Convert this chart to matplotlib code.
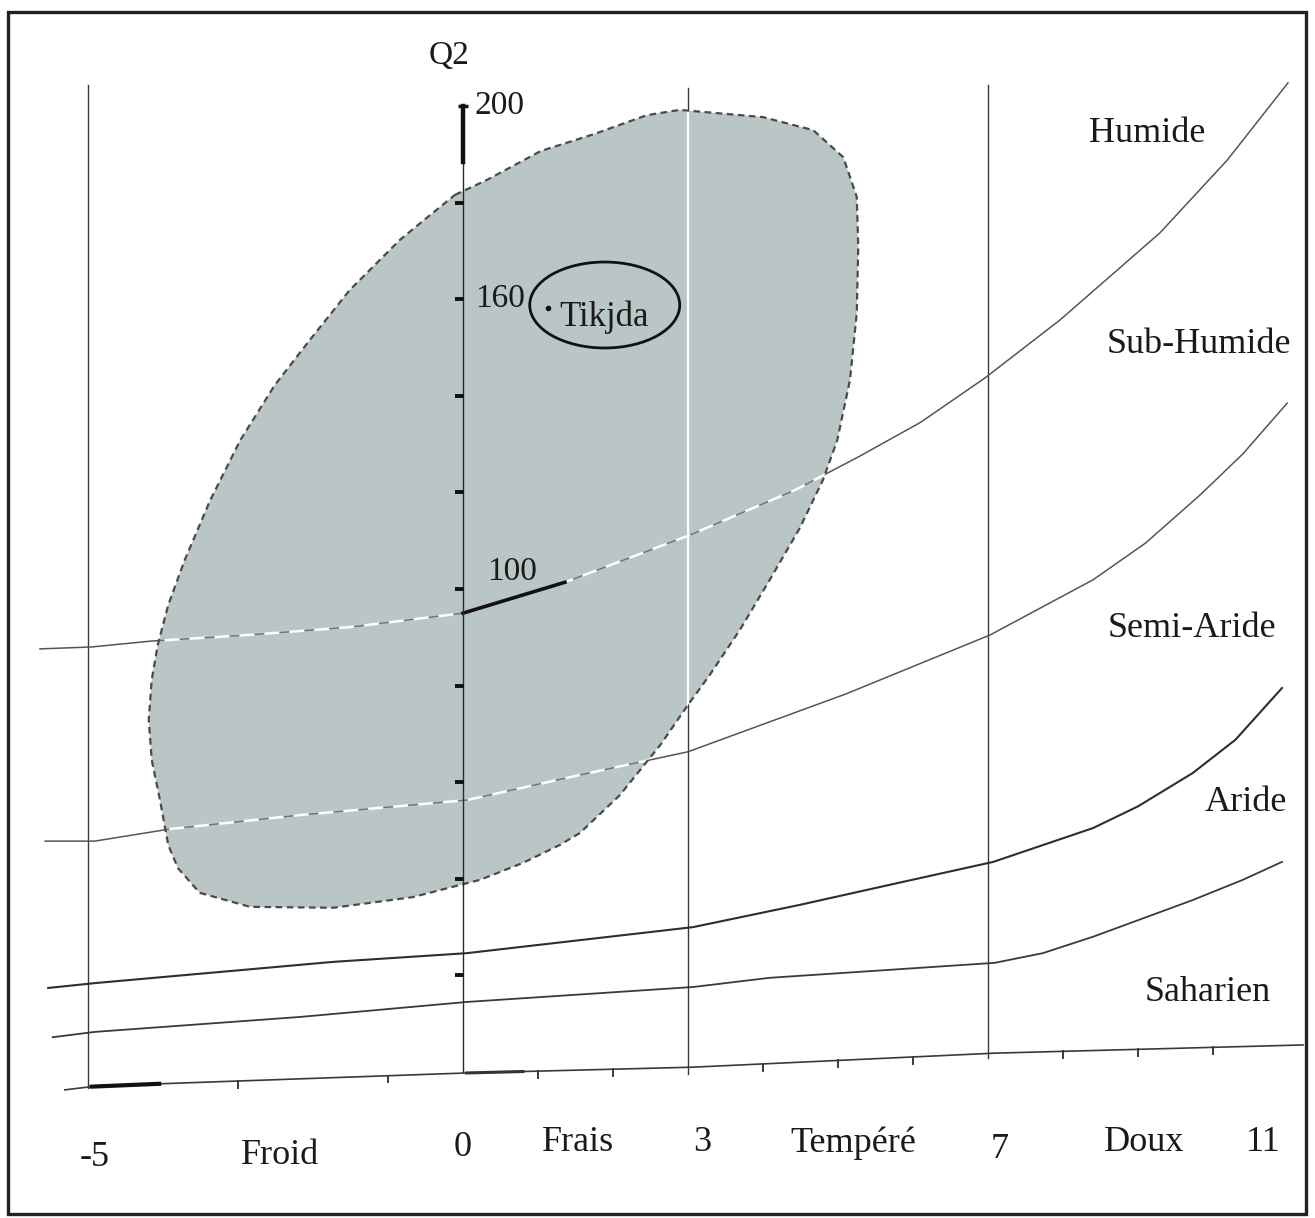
import numpy as np
import matplotlib
matplotlib.use("Agg")
import matplotlib.pyplot as plt
from matplotlib.patches import Polygon, Ellipse, Rectangle

# ---------------- data (m in degC, Q2 Emberger quotient) ----------------
# Boundary curves of the Emberger climagram
humid_m = [-5.64, -4.95, -4.17, -2.84, -1.51, 0.0, 1.36, 3.03, 4.43, 5.29, 6.1, 6.96, 7.96, 9.29, 10.19, 11.0]
humid_q2 = [87.6, 88.0, 89.2, 90.5, 92.1, 95.0, 101.4, 111.2, 120.5, 127.5, 134.5, 143.7, 155.7, 173.7, 188.8, 204.8]

subhumid_m = [-5.57, -4.91, -3.91, -2.17, 0.05, 1.56, 3.0, 5.11, 7.03, 8.4, 9.1, 9.83, 10.4, 10.99]
subhumid_q2 = [47.8, 47.8, 50.3, 53.2, 56.3, 61.5, 66.3, 78.3, 90.5, 101.9, 109.5, 119.5, 128.0, 138.5]

semiarid_m = [-5.53, -4.91, -1.73, 0.05, 1.56, 3.07, 4.49, 5.79, 7.07, 8.4, 9.0, 9.73, 10.3, 10.92]
semiarid_q2 = [17.4, 18.4, 22.8, 24.6, 27.3, 30.0, 34.6, 39.1, 43.5, 50.5, 55.0, 61.9, 68.8, 79.5]

arid_m = [-5.47, -4.91, -2.17, 0.05, 3.07, 4.09, 7.09, 7.73, 8.4, 9.73, 10.4, 10.92]
arid_q2 = [7.2, 8.3, 11.4, 14.5, 17.6, 19.5, 22.6, 24.6, 28.0, 35.6, 39.8, 43.5]

# Baseline (Q2 = 0 line as drawn on the scanned figure)
base_m = [-5.31, -4.88, 0.05, 3.07, 7.09, 11.2]
base_q2 = [-3.7, -2.9, -0.2, 1.0, 3.9, 5.6]

# Vertical reference lines (m values) and their extent
vline_m = [-5, 3, 7]
vline_top = [204.3, 203.7, 204.3]
vline_bottom = [-3.3, -0.5, 2.9]

# Q2 axis
q2_axis_ticks = [20, 40, 60, 80, 100, 120, 140, 160, 180, 200]
q2_axis_labels = ["200", "160", "100"]
q2_label_vals = [200, 160, 100]

# Minor ticks on the m axis
m_ticks = [-3, -1, 1, 2, 4, 5, 6, 8, 9, 10]

# Bottom labels
bottom_text = ["-5", "Froid", "0", "Frais", "3", "Tempéré", "7", "Doux", "11"]
bottom_pos = [-4.91, -2.44, -0.01, 1.53, 3.19, 5.2, 7.16, 9.08, 10.67]
bottom_q2 = [-17.8, -17.2, -15.7, -14.7, -14.7, -14.7, -16.1, -14.7, -14.7]

# Bioclimatic stage labels
stage_text = ["Humide", "Sub-Humide", "Semi-Aride", "Aride", "Saharien"]
stage_m = [9.12, 9.81, 9.72, 10.44, 9.93]
stage_q2 = [194.4, 150.7, 91.9, 55.9, 16.4]

# Shaded envelope (grey area)
blob_m = [-0.107, 0.32, 1.04, 1.75, 2.45, 2.89, 4.0, 4.67, 5.07, 5.25, 5.27, 5.25, 5.16, 4.99,
          4.8, 4.49, 4.09, 3.69, 3.29, 3.0, 2.63, 2.09, 1.56, 1.29, 0.8, 0.23, -0.67, -1.73,
          -2.84, -3.51, -3.8, -3.93, -4.04, -4.15, -4.19, -4.15, -4.07, -3.93, -3.71, -3.37,
          -2.97, -2.51, -2.04, -1.51, -0.84, -0.44]
blob_q2 = [181.6, 184.7, 190.7, 194.2, 198.1, 199.2, 197.7, 195.0, 189.4, 181.2, 170.8, 157.1,
           143.3, 130.8, 122.6, 112.6, 101.9, 91.5, 82.2, 76.0, 67.7, 57.3, 49.5, 47.0, 43.3,
           39.8, 36.2, 34.0, 34.2, 37.1, 42.2, 47.0, 56.3, 64.6, 72.9, 81.2, 88.4, 96.7, 106.0,
           118.4, 130.8, 142.2, 151.6, 161.9, 172.3, 177.4]

# Station
station_name = "Tikjda"
station_m = 1.13
station_q2 = 158.2

# ---------------- figure ----------------
FONT = ["Liberation Serif", "DejaVu Serif"]
INK = "#1a1a1a"
LINE = "#3a3a3a"

fig = plt.figure(figsize=(13.15, 12.18), dpi=100)
ax = fig.add_axes([0, 0, 1, 1])
ax.set_xlim(-6.173, 11.36)
ax.set_ylim(-30.23, 221.95)
ax.axis("off")

# frame
ax.add_patch(Rectangle((0.006, 0.003), 0.987, 0.987, transform=ax.transAxes,
                       fill=False, ec="#222222", lw=2.4, zorder=10))

# vertical lines
for m, t, b in zip(vline_m, vline_top, vline_bottom):
    ax.plot([m, m], [b, t], color=LINE, lw=1.0, zorder=1)

# baseline and ticks
ax.plot(base_m, base_q2, color=LINE, lw=1.2, zorder=1)
ax.plot([-4.95, -4.05], np.interp([-4.95, -4.05], base_m, base_q2), color="#111", lw=3, zorder=2)
ax.plot([0.05, 0.8], np.interp([0.05, 0.8], base_m, base_q2), color="#333", lw=2.2, zorder=2)
for m in m_ticks:
    yb = np.interp(m, base_m, base_q2)
    ax.plot([m, m], [yb, yb - 1.4], color=LINE, lw=1.4, zorder=2)

# boundary curves (under envelope)
curves = [(humid_m, humid_q2, 1.1, "#555555"),
          (subhumid_m, subhumid_q2, 1.1, "#555555"),
          (semiarid_m, semiarid_q2, 1.5, "#2e2e2e"),
          (arid_m, arid_q2, 1.3, "#3a3a3a")]
for xm, yq, lw, c in curves:
    ax.plot(xm, yq, color=c, lw=lw, zorder=1, solid_joinstyle="round")

# envelope
blob_xy = np.column_stack([blob_m, blob_q2])
blob = Polygon(blob_xy, closed=True, fc="#bac6c5", ec="none", zorder=2)
ax.add_patch(blob)

# curves and 3-line inside envelope: light dashed
for xm, yq, lw, c in curves[:3]:
    l1, = ax.plot(xm, yq, color="#6a7474", lw=1.0, zorder=3)
    l1.set_clip_path(blob)
    l2, = ax.plot(xm, yq, color="white", lw=1.8, ls=(0, (6, 4)), zorder=3)
    l2.set_clip_path(blob)
l3, = ax.plot([3, 3], [vline_bottom[1], vline_top[1]], color="white", lw=1.6, zorder=3)
l3.set_clip_path(blob)

# envelope outline
bx = list(blob_m) + [blob_m[0]]
by = list(blob_q2) + [blob_q2[0]]
ax.plot(bx, by, color="#4a4a4a", lw=1.6, ls=(0, (3, 2)), zorder=4)

# thick dark part of the Humide curve near Q2 = 100
hm = np.array(humid_m)
hq = np.array(humid_q2)
sel = (hm >= 0) & (hm <= 1.4)
ax.plot(hm[sel], hq[sel], color="#111", lw=2.6, zorder=5)

# Q2 axis
ax.plot([0, 0], [0, 200], color="#2a2a2a", lw=1.0, zorder=5)
ax.plot([0, 0], [188.5, 200], color="#111", lw=3.2, zorder=5)
ax.plot([-0.07, 0.07], [200, 200], color="#111", lw=2.5, zorder=5, solid_capstyle="butt")
for t in q2_axis_ticks[:-1]:
    ax.plot([-0.1, 0.02], [t, t], color="#111", lw=2.8, zorder=5, solid_capstyle="butt")

for s, v in zip(q2_axis_labels, q2_label_vals):
    dx = 0.32 if s == "100" else 0.16
    ax.text(dx, v + (3.5 if s == "100" else 0), s, fontsize=24, family=FONT, color=INK,
            ha="left", va="center", zorder=6)
ax.text(-0.18, 210.5, "Q2", fontsize=24, family=FONT, color=INK, ha="center", va="center", zorder=6)

# station
ax.add_patch(Ellipse((1.89, 158.8), 2.0, 17.8, fill=False, ec="#111", lw=2.0, zorder=6))
ax.plot([station_m], [station_q2], marker="o", ms=3, color="#111", zorder=6)
ax.text(1.29, 156.3, station_name, fontsize=25, family=FONT, color=INK,
        ha="left", va="center", zorder=6)

# bottom labels
for s, x, y in zip(bottom_text, bottom_pos, bottom_q2):
    ax.text(x, y, s, fontsize=26, family=FONT, color=INK, ha="center", va="center", zorder=6)

# stage labels
for s, x, y in zip(stage_text, stage_m, stage_q2):
    ax.text(x, y, s, fontsize=26, family=FONT, color=INK, ha="center", va="center", zorder=6)

fig.savefig("out.png", dpi=100, facecolor="white")
